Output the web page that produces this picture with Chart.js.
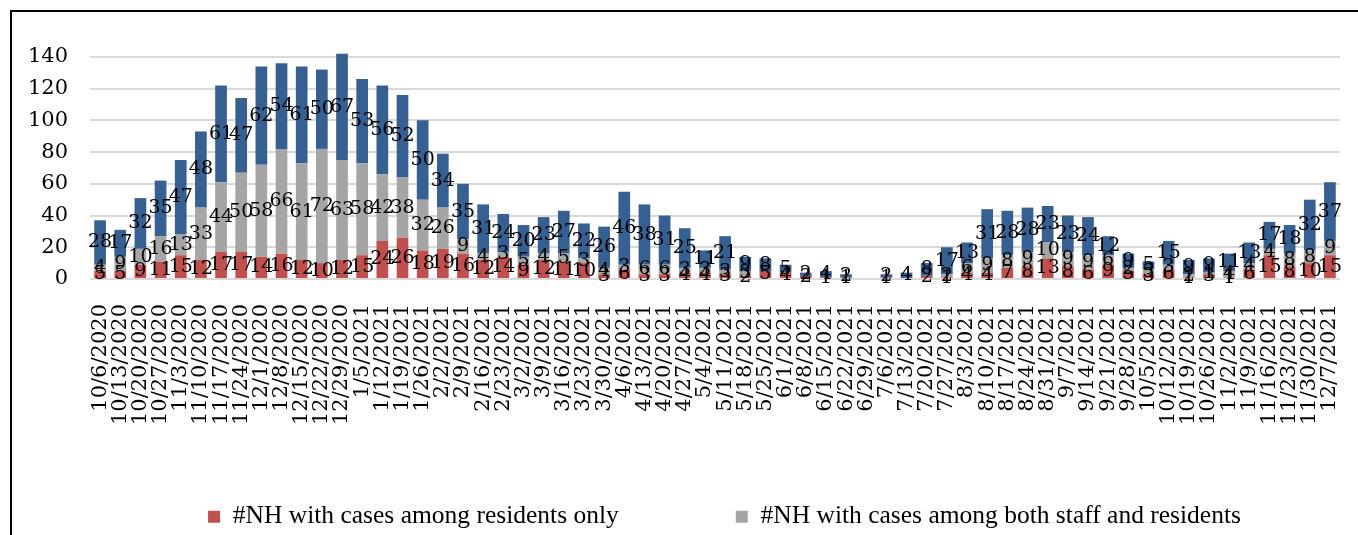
<!DOCTYPE html>
<html>
<head>
<meta charset="utf-8">
<script src="https://cdn.jsdelivr.net/npm/chart.js@4.4.0/dist/chart.umd.min.js"></script>
<style>
  html, body { margin: 0; padding: 0; background: #fff; overflow: hidden; }
  body { width: 1358px; height: 535px; position: relative; }
  #frame {
    position: absolute; left: 10px; top: 10px; width: 1400px; height: 600px;
    border-left: 2px solid #000; border-top: 2px solid #000;
  }
  #wrap { position: absolute; left: 0; top: 0; width: 1449px; height: 724px; }
</style>
</head>
<body>
<div id="frame"></div>
<div id="wrap"><canvas id="chart" width="1449" height="724"></canvas></div>
<script>
// weekly report dates
const weeks = [
  '10/6/2020', '10/13/2020', '10/20/2020', '10/27/2020', '11/3/2020', '11/10/2020',
  '11/17/2020', '11/24/2020', '12/1/2020', '12/8/2020', '12/15/2020', '12/22/2020',
  '12/29/2020', '1/5/2021', '1/12/2021', '1/19/2021', '1/26/2021', '2/2/2021',
  '2/9/2021', '2/16/2021', '2/23/2021', '3/2/2021', '3/9/2021', '3/16/2021',
  '3/23/2021', '3/30/2021', '4/6/2021', '4/13/2021', '4/20/2021', '4/27/2021',
  '5/4/2021', '5/11/2021', '5/18/2021', '5/25/2021', '6/1/2021', '6/8/2021',
  '6/15/2021', '6/22/2021', '6/29/2021', '7/6/2021', '7/13/2021', '7/20/2021',
  '7/27/2021', '8/3/2021', '8/10/2021', '8/17/2021', '8/24/2021', '8/31/2021',
  '9/7/2021', '9/14/2021', '9/21/2021', '9/28/2021', '10/5/2021', '10/12/2021',
  '10/19/2021', '10/26/2021', '11/2/2021', '11/9/2021', '11/16/2021', '11/23/2021',
  '11/30/2021', '12/7/2021'
];

const residentsOnly = [
  5, 5, 9, 11, 15, 12, 17, 17, 14, 16, 12, 10, 12, 15, 24, 26, 18, 19,
  16, 12, 14, 9, 12, 11, 10, 3, 6, 3, 3, 4, 4, 3, 2, 5, 4, 2,
  1, 1, 0, 1, 0, 2, 1, 4, 4, 7, 8, 13, 8, 6, 9, 5, 3, 6,
  1, 3, 1, 6, 15, 8, 10, 15
];

const staffAndResidents = [
  4, 9, 10, 16, 13, 33, 44, 50, 58, 66, 61, 72, 63, 58, 42, 38, 32, 26,
  9, 4, 3, 5, 4, 5, 3, 4, 3, 6, 6, 3, 3, 3, 3, 0, 0, 0,
  0, 0, 0, 0, 0, 0, 2, 6, 9, 8, 9, 10, 9, 9, 6, 2, 3, 3,
  2, 1, 4, 4, 4, 8, 8, 9
];

const staffOnly = [
  28, 17, 32, 35, 47, 48, 61, 47, 62, 54, 61, 50, 67, 53, 56, 52, 50, 34,
  35, 31, 24, 20, 23, 27, 22, 26, 46, 38, 31, 25, 11, 21, 9, 8, 5, 2,
  4, 2, 0, 2, 4, 8, 17, 13, 31, 28, 28, 23, 23, 24, 12, 9, 5, 15,
  9, 9, 11, 13, 17, 18, 32, 37
];

const yTicks = [0, 20, 40, 60, 80, 100, 120, 140];

const serif = '"DejaVu Serif", serif';

// value labels centred in every stacked segment
const segmentLabels = {
  id: 'segmentLabels',
  afterDatasetsDraw(chart) {
    const ctx = chart.ctx;
    ctx.save();
    ctx.font = '19px ' + serif;
    ctx.fillStyle = '#000';
    ctx.textAlign = 'center';
    ctx.textBaseline = 'middle';
    chart.data.datasets.forEach((ds, i) => {
      const meta = chart.getDatasetMeta(i);
      meta.data.forEach((bar, j) => {
        const v = ds.data[j];
        if (!v) return;
        ctx.fillText(String(v), bar.x, (bar.y + bar.base) / 2);
      });
    });
    ctx.restore();
  }
};

// pull the legend up a little so the first row sits where it should
const legendNudge = {
  id: 'legendNudge',
  afterLayout(chart) {
    const lg = chart.legend;
    if (!lg) return;
    lg.top -= 42;
    lg.bottom -= 42;
  }
};

new Chart(document.getElementById('chart'), {
  type: 'bar',
  data: {
    labels: weeks,
    datasets: [
      {
        label: '#NH with cases among residents only',
        data: residentsOnly,
        backgroundColor: '#c0504d',
        borderWidth: 0
      },
      {
        label: '#NH with cases among both staff and residents',
        data: staffAndResidents,
        backgroundColor: '#a5a5a5',
        borderWidth: 0
      },
      {
        label: '#NH with cases among staff only',
        data: staffOnly,
        backgroundColor: '#376092',
        borderWidth: 0
      }
    ]
  },
  options: {
    responsive: false,
    animation: false,
    layout: { padding: { top: 41, left: 0, right: 0, bottom: 0 } },
    datasets: {
      bar: { barPercentage: 0.58, categoryPercentage: 1 }
    },
    plugins: {
      tooltip: { enabled: false },
      legend: {
        position: 'bottom',
        align: 'center',
        labels: {
          font: { family: '"Liberation Serif", serif', size: 25.5 },
          color: '#000',
          boxWidth: 12,
          boxHeight: 12,
          padding: 117
        }
      }
    },
    scales: {
      x: {
        stacked: true,
        grid: { display: false },
        border: { display: false },
        ticks: {
          autoSkip: false,
          minRotation: 90,
          maxRotation: 90,
          padding: 17,
          color: '#000',
          font: { family: serif, size: 21 }
        },
        afterFit: s => { s.height = 150; }
      },
      y: {
        stacked: true,
        min: 0,
        max: 150,
        border: { display: false },
        grid: { color: '#d9d9d9', lineWidth: 2, drawTicks: false },
        ticks: {
          stepSize: 20,
          padding: 22,
          color: '#000',
          font: { family: serif, size: 21 }
        },
        afterBuildTicks: s => { s.ticks = yTicks.map(v => ({ value: v })); },
        afterFit: s => { s.width = 90; }
      },
      pad: {
        type: 'linear',
        position: 'right',
        display: true,
        grid: { display: false },
        border: { display: false },
        ticks: { display: false },
        afterFit: s => { s.width = 109; }
      }
    }
  },
  plugins: [segmentLabels, legendNudge]
});
</script>
</body>
</html>
